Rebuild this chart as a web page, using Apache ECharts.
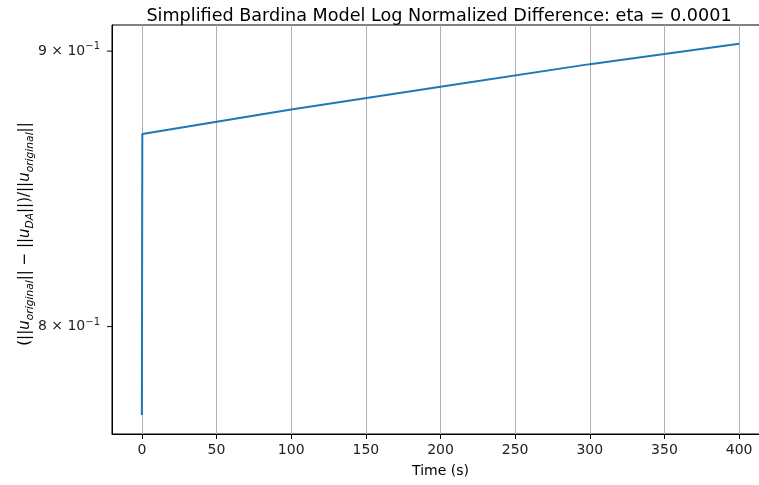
<!DOCTYPE html>
<html>
<head>
<meta charset="utf-8">
<script src="https://cdn.jsdelivr.net/npm/echarts@6/dist/echarts.min.js"></script>
<style>
  html, body { margin: 0; padding: 0; background: #fff; }
  #chart { width: 759px; height: 485px; }
</style>
</head>
<body>
<div id="chart"></div>
<script>
// Normalized difference over time (log scale)
const times = [0, 0.3, 100, 200, 300, 400];
const normDiff = [0.7703, 0.8687, 0.8778, 0.8864, 0.8950, 0.9028];

const xTicks = [0, 50, 100, 150, 200, 250, 300, 350, 400];
const yTicks = [0.8, 0.9];
const yTickMant = ['8', '9'];
const yTickExp = ['−1', '−1'];

const titleText = 'Simplified Bardina Model Log Normalized Difference: eta = 0.0001';
const xName = 'Time (s)';

const FONT = 'DejaVu Sans';
const chart = echarts.init(document.getElementById('chart'), null, { renderer: 'canvas' });

const seriesData = times.map((t, i) => [t, normDiff[i]]);

const GRID = { left: 112, top: 25, width: 657, height: 409 };

chart.setOption({
  animation: false,
  backgroundColor: '#fff',
  title: {
    text: titleText,
    left: 434,
    top: 2,
    textAlign: 'center',
    textStyle: { fontFamily: FONT, fontSize: 17.6, fontWeight: 'normal', color: '#000' }
  },
  grid: Object.assign({
    show: true,
    borderColor: '#000',
    borderWidth: 1,
    backgroundColor: 'transparent',
    containLabel: false,
    outerBoundsMode: 'none'
  }, GRID),
  xAxis: {
    type: 'value',
    min: -20,
    max: 420,
    name: xName,
    nameLocation: 'middle',
    nameGap: 30,
    nameTextStyle: { fontFamily: FONT, fontSize: 14, color: '#000' },
    axisLine: { show: true, onZero: false, lineStyle: { color: '#000', width: 1 } },
    axisTick: { show: true, inside: false, length: 5, customValues: xTicks, lineStyle: { color: '#000', width: 1 } },
    axisLabel: { show: true, margin: 9, customValues: xTicks, fontFamily: FONT, fontSize: 14, color: '#222' },
    splitLine: { show: true, lineStyle: { color: '#b0b0b0', width: 1 } }
  },
  yAxis: {
    type: 'log',
    logBase: 10,
    min: 0.7641,
    max: 0.9101,
    axisLine: { show: true, onZero: false, lineStyle: { color: '#000', width: 1 } },
    axisTick: { show: false },
    axisLabel: { show: false },
    splitLine: { show: false },
    minorTick: { show: false },
    minorSplitLine: { show: false }
  },
  series: [{
    type: 'line',
    data: seriesData,
    showSymbol: false,
    symbol: 'none',
    lineStyle: { color: '#1f77b4', width: 2 },
    clip: true
  }]
});

// Log-axis tick marks and mathtext-style labels placed through the axis scale
const graphics = [];
yTicks.forEach((v, i) => {
  const py = chart.convertToPixel({ yAxisIndex: 0 }, v);
  graphics.push({
    type: 'line',
    shape: { x1: GRID.left - 5, y1: py, x2: GRID.left, y2: py },
    style: { stroke: '#000', lineWidth: 1 },
    silent: true
  });
  graphics.push({
    type: 'text',
    x: GRID.left - 12,
    y: py,
    style: {
      text: '{m|' + yTickMant[i] + ' × 10}{e|' + yTickExp[i] + '}',
      align: 'right',
      verticalAlign: 'middle',
      rich: {
        m: { fontFamily: FONT, fontSize: 14, lineHeight: 19, fill: '#222' },
        e: { fontFamily: FONT, fontSize: 10, lineHeight: 10, verticalAlign: 'top', fill: '#222' }
      }
    },
    silent: true
  });
});

// Rotated y-axis title with italic variables and subscripts
graphics.push({
  type: 'text',
  x: 25,
  y: 234,
  rotation: Math.PI / 2,
  style: {
    text: '{n|(||}{i|u}{s|original}{n||| − ||}{i|u}{s|DA}{n|||)/||}{i|u}{s|original}{n|||}',
    align: 'center',
    verticalAlign: 'middle',
    rich: {
      n: { fontFamily: FONT, fontSize: 15, lineHeight: 21, fill: '#000' },
      i: { fontFamily: FONT, fontSize: 15, fontStyle: 'italic', lineHeight: 21, fill: '#000' },
      s: { fontFamily: FONT, fontSize: 10.7, fontStyle: 'italic', lineHeight: 11, verticalAlign: 'bottom', fill: '#000' }
    }
  },
  silent: true
});

chart.setOption({ graphic: graphics });
</script>
</body>
</html>
